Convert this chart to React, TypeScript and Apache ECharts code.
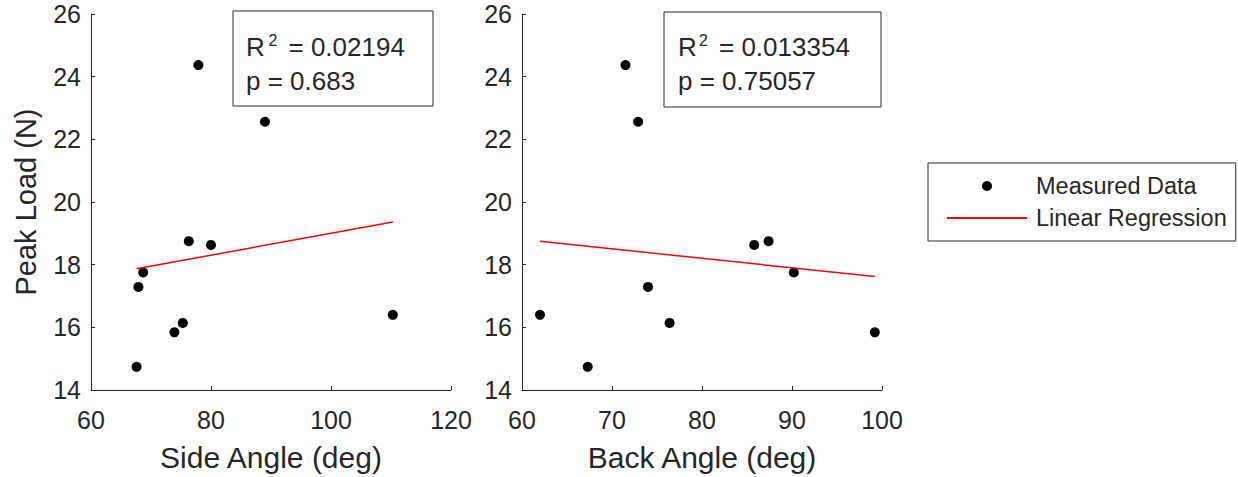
import React, { useEffect, useRef } from "react";
import * as echarts from "echarts";

const sideAngle = [77.9, 89.0, 76.3, 80.0, 68.7, 67.9, 75.3, 73.9, 67.6, 110.3];
const backAngle = [71.5, 72.9, 87.4, 85.8, 90.2, 74.0, 76.4, 99.2, 67.3, 62.0];
const peakLoad = [24.37, 22.56, 18.75, 18.63, 17.75, 17.29, 16.14, 15.84, 14.74, 16.4];

const sideFitX = [67.6, 110.3];
const sideFitY = [17.87, 19.36];
const backFitX = [62.0, 99.2];
const backFitY = [18.75, 17.62];

const sideStats = ["0.02194", "0.683"];
const backStats = ["0.013354", "0.75057"];

const seriesNames = ["Measured Data", "Linear Regression"];
const axisTitles = ["Side Angle (deg)", "Back Angle (deg)", "Peak Load (N)"];

const FONT = "'Liberation Sans', Arial, Helvetica, sans-serif";
const INK = "#262626";

function statBox(x: number, y: number, w: number, h: number, r2: string, p: string, off: number[]) {
  return {
    type: "group",
    children: [
      {
        type: "rect",
        shape: { x, y, width: w, height: h },
        style: { fill: "#fff", stroke: INK, lineWidth: 1 },
      },
      {
        type: "text",
        x: x + off[0],
        y: 47,
        style: { text: "R", font: `26px ${FONT}`, fill: INK, verticalAlign: "middle" },
      },
      {
        type: "text",
        x: x + off[1],
        y: 40.5,
        style: { text: "2", font: `16px ${FONT}`, fill: INK, verticalAlign: "middle" },
      },
      {
        type: "text",
        x: x + off[2],
        y: 47,
        style: { text: "= " + r2, font: `26px ${FONT}`, fill: INK, verticalAlign: "middle" },
      },
      {
        type: "text",
        x: x + off[0],
        y: 80.5,
        style: { text: "p = " + p, font: `26px ${FONT}`, fill: INK, verticalAlign: "middle" },
      },
    ],
  };
}

export default function App() {
  const ref = useRef<HTMLDivElement>(null);
  useEffect(() => {
    if (!ref.current) return;
    const chart = echarts.init(ref.current, undefined, { renderer: "svg" });
    const axisCommon = {
      axisLine: { show: true, onZero: false, lineStyle: { color: INK, width: 1 } },
      axisTick: { show: true, inside: true, length: 4, lineStyle: { color: INK, width: 1 } },
      splitLine: { show: false },
    };
    const xAxis = (idx: number, min: number, max: number, interval: number, name: string) => ({
      type: "value",
      gridIndex: idx,
      min,
      max,
      interval,
      name,
      nameLocation: "middle",
      nameGap: 52,
      nameTextStyle: { fontSize: 30, fontFamily: FONT, color: INK },
      axisLabel: { fontSize: 25, fontFamily: FONT, color: INK, margin: 17 },
      ...axisCommon,
    });
    const yAxis = (idx: number, name?: string) => ({
      type: "value",
      gridIndex: idx,
      min: 14,
      max: 26,
      interval: 2,
      name,
      nameLocation: "middle",
      nameGap: 51,
      nameTextStyle: { fontSize: 29, fontFamily: FONT, color: INK },
      axisLabel: { fontSize: 25, fontFamily: FONT, color: INK, margin: 10, padding: [5, 0, 0, 0] },
      ...axisCommon,
    });
    const pts = (xs: number[]) => xs.map((x, i) => [x, peakLoad[i]]);
    const fit = (xs: number[], ys: number[]) => xs.map((x, i) => [x, ys[i]]);
    const scatterStyle = { color: "#000", opacity: 1 };
    const lineStyle = { color: "#ff0000", width: 1.5 };
    chart.setOption({
      animation: false,
      backgroundColor: "#fff",
      grid: [
        { left: 91, top: 14, width: 360, height: 377 },
        { left: 522, top: 14, width: 360, height: 377 },
      ],
      xAxis: [xAxis(0, 60, 120, 20, axisTitles[0]), xAxis(1, 60, 100, 10, axisTitles[1])],
      yAxis: [yAxis(0, axisTitles[2]), yAxis(1)],
      legend: {
        orient: "vertical",
        left: 928,
        top: 163,
        padding: [11, 9, 11, 18],
        itemWidth: 80,
        itemHeight: 10,
        itemGap: 8,
        backgroundColor: "#fff",
        borderColor: INK,
        borderWidth: 1,
        borderRadius: 0,
        textStyle: { fontSize: 23.5, fontFamily: FONT, color: INK, padding: [0, 0, 0, 4] },
        data: [
          { name: seriesNames[0] },
          {
            name: seriesNames[1],
            itemStyle: { color: "rgba(0,0,0,0)", borderWidth: 0, opacity: 0 },
          },
        ],
      },
      series: [
        {
          name: seriesNames[0],
          type: "scatter",
          xAxisIndex: 0,
          yAxisIndex: 0,
          symbolSize: 10,
          itemStyle: scatterStyle,
          data: pts(sideAngle),
        },
        {
          name: seriesNames[1],
          type: "line",
          xAxisIndex: 0,
          yAxisIndex: 0,
          symbol: "none",
          lineStyle,
          itemStyle: { color: "#ff0000" },
          data: fit(sideFitX, sideFitY),
        },
        {
          name: seriesNames[0],
          type: "scatter",
          xAxisIndex: 1,
          yAxisIndex: 1,
          symbolSize: 10,
          itemStyle: scatterStyle,
          data: pts(backAngle),
        },
        {
          name: seriesNames[1],
          type: "line",
          xAxisIndex: 1,
          yAxisIndex: 1,
          symbol: "none",
          lineStyle,
          itemStyle: { color: "#ff0000" },
          data: fit(backFitX, backFitY),
        },
      ],
      graphic: [
        statBox(233, 11, 200, 95, sideStats[0], sideStats[1], [13, 35.5, 55.5]),
        statBox(664, 12, 217, 95, backStats[0], backStats[1], [14, 35, 55]),
      ],
    });
    return () => chart.dispose();
  }, []);
  return (
    <div
      ref={ref}
      style={{ position: "fixed", left: 0, top: 0, width: 1238, height: 477, background: "#fff" }}
    />
  );
}
